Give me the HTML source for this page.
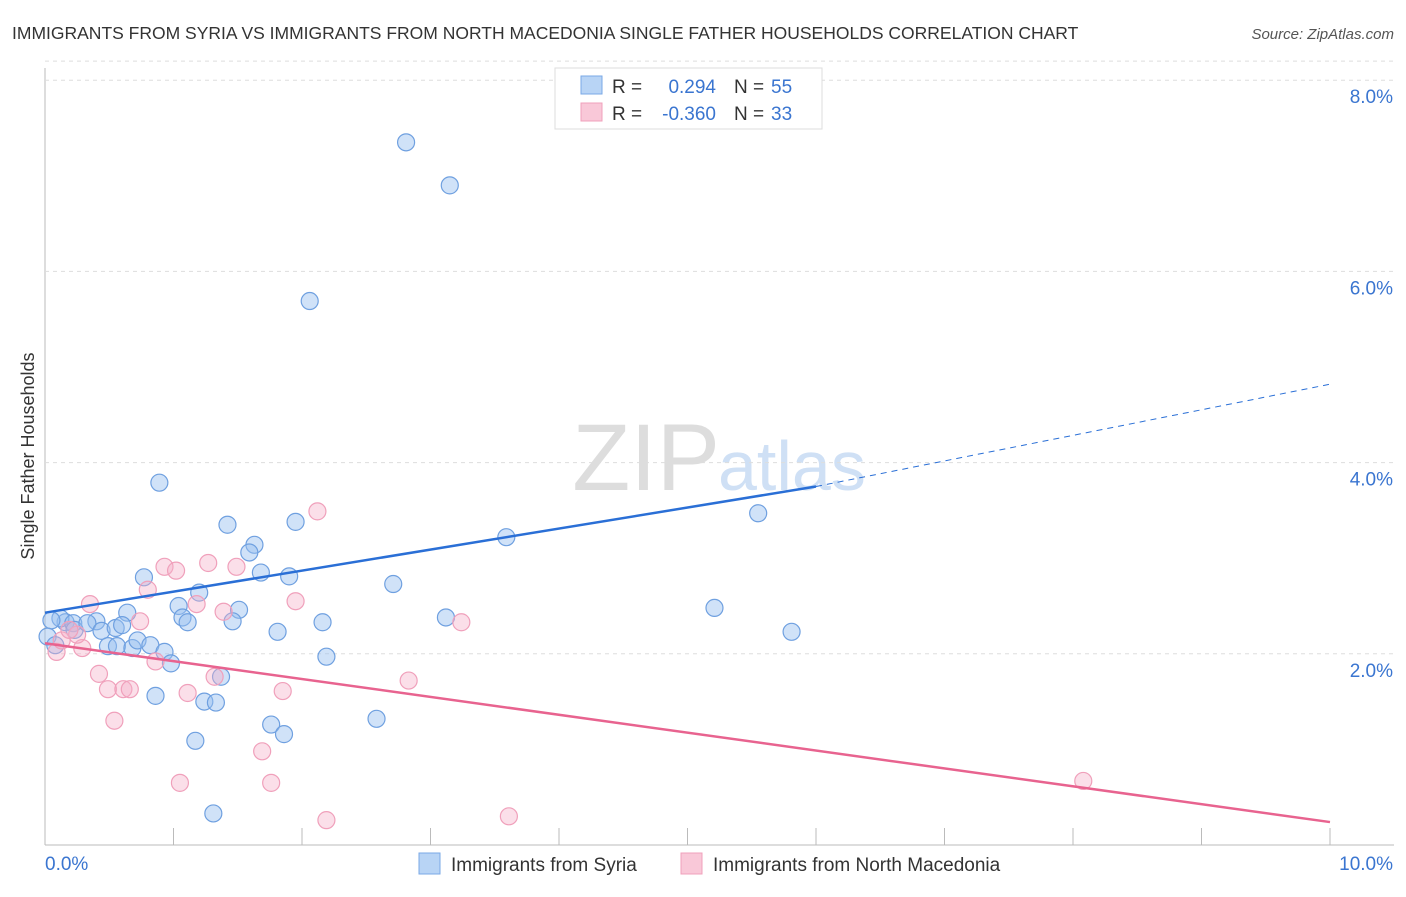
<!DOCTYPE html>
<html><head><meta charset="utf-8"><style>
body{margin:0;background:#fff;font-family:"Liberation Sans",sans-serif}
svg text{font-family:"Liberation Sans",sans-serif}
</style></head><body>
<svg id="chart" width="1406" height="892" xmlns="http://www.w3.org/2000/svg">
<text x="12" y="39" font-size="17.5" fill="#333">IMMIGRANTS FROM SYRIA VS IMMIGRANTS FROM NORTH MACEDONIA SINGLE FATHER HOUSEHOLDS CORRELATION CHART</text>
<text x="1394" y="39" font-size="15" fill="#555" font-style="italic" text-anchor="end">Source: ZipAtlas.com</text>
<text x="720" y="490" font-size="95" fill="#ddd" text-anchor="end" font-family="Liberation Serif">ZIP</text>
<text x="718" y="490" font-size="70" fill="#cfe0f5">atlas</text>
<text transform="translate(34,456) rotate(-90)" font-size="18" fill="#333" text-anchor="middle">Single Father Households</text>
<g id="grid"></g><g id="marks"></g>
<g>
<rect x="555" y="68" width="267" height="61" fill="#fff" stroke="#ddd"/>
<rect x="581" y="76" width="21" height="18" fill="#b8d4f5" stroke="#7aa8e6"/>
<rect x="581" y="103" width="21" height="18" fill="#f9c8d8" stroke="#f0a0bb"/>
<text x="612" y="93" font-size="19" fill="#333">R =</text><text x="716" y="93" font-size="19" fill="#3a75d0" text-anchor="end">0.294</text>
<text x="734" y="93" font-size="19" fill="#333">N =</text><text x="771" y="93" font-size="19" fill="#3a75d0">55</text>
<text x="612" y="120" font-size="19" fill="#333">R =</text><text x="716" y="120" font-size="19" fill="#3a75d0" text-anchor="end">-0.360</text>
<text x="734" y="120" font-size="19" fill="#333">N =</text><text x="771" y="120" font-size="19" fill="#3a75d0">33</text>
</g>
<g>
<rect x="419" y="853" width="21" height="21" fill="#b8d4f5" stroke="#7aa8e6"/>
<text x="451" y="871" font-size="19" fill="#333">Immigrants from Syria</text>
<rect x="681" y="853" width="21" height="21" fill="#f9c8d8" stroke="#f0a0bb"/>
<text x="713" y="871" font-size="19" fill="#333">Immigrants from North Macedonia</text>
</g>
</svg>
<script>
const yTicks=[2,4,6,8];
const xTickVals=[0,1,2,3,4,5,6,7,8,9,10];
const syriaX=[2.81,3.15,2.06,0.89,5.55,1.42,1.95,3.59,1.63,1.59,0.77,1.68,1.90,2.71,1.20,1.04,0.64,1.51,1.07,1.11,1.46,5.21,3.12,2.16,5.81,1.81,0.40,0.16,0.12,0.22,0.23,0.33,0.44,0.49,0.56,0.68,0.72,0.82,0.93,0.98,2.19,1.37,0.86,1.24,1.33,2.58,1.76,1.86,1.17,1.31,0.05,0.02,0.08,0.55,0.60];
const syriaY=[7.35,6.90,5.69,3.79,3.47,3.35,3.38,3.22,3.14,3.06,2.80,2.85,2.81,2.73,2.64,2.50,2.43,2.46,2.38,2.33,2.34,2.48,2.38,2.33,2.23,2.23,2.34,2.33,2.37,2.32,2.25,2.32,2.24,2.08,2.08,2.06,2.14,2.09,2.02,1.90,1.97,1.76,1.56,1.50,1.49,1.32,1.26,1.16,1.09,0.33,2.35,2.18,2.09,2.27,2.30];
const macX=[2.12,0.93,1.02,1.27,1.49,0.80,0.35,1.18,1.95,1.39,0.74,3.24,0.29,0.09,0.13,0.25,0.86,0.42,1.32,2.83,0.49,0.61,0.66,1.11,1.85,0.54,1.69,1.05,1.76,2.19,3.61,8.08,0.19];
const macY=[3.49,2.91,2.87,2.95,2.91,2.67,2.52,2.52,2.55,2.44,2.34,2.33,2.06,2.02,2.14,2.20,1.92,1.79,1.76,1.72,1.63,1.63,1.63,1.59,1.61,1.30,0.98,0.65,0.65,0.26,0.30,0.67,2.25];
const syriaTrend=[2.43,3.75,4.82]; // at x=0, 6, 10
const macTrend=[2.11,0.24]; // at x=0, 10
const NS="http://www.w3.org/2000/svg";
const xs=v=>45+v*128.5, ys=v=>845-v*95.6;
const grid=document.getElementById('grid'), marks=document.getElementById('marks');
function mk(tag,attrs,parent){const e=document.createElementNS(NS,tag);for(const k in attrs)e.setAttribute(k,attrs[k]);parent.appendChild(e);return e;}
let l=mk('line',{x1:45,y1:68,x2:45,y2:845,stroke:'#bbb'},grid);


l=mk('line',{x1:45,y1:845,x2:1394,y2:845,stroke:'#bbb'},grid);


l=mk('line',{x1:45,y1:ys(8.2),x2:1394,y2:ys(8.2),stroke:'#ddd','stroke-dasharray':'4,4'},grid);


yTicks.forEach(t=>{
 const g=mk('line',{x1:45,y1:ys(t),x2:1394,y2:ys(t),stroke:'#ddd','stroke-dasharray':'4,4'},grid);
 
 
 const tx=mk('text',{x:1393,y:ys(t)+23,'font-size':19,fill:'#3a75d0','text-anchor':'end'},grid);tx.textContent=t.toFixed(1)+'%';
 
 
});
xTickVals.forEach(t=>{
 if(t===0)return;
 const g=mk('line',{x1:xs(t),y1:828,x2:xs(t),y2:845,stroke:'#bbb'},grid);
 
 
});
let tx=mk('text',{x:45,y:870,'font-size':19,fill:'#3a75d0'},grid);tx.textContent='0.0%';


tx=mk('text',{x:1393,y:870,'font-size':19,fill:'#3a75d0','text-anchor':'end'},grid);tx.textContent='10.0%';


syriaX.forEach((x,i)=>{
 const c=mk('circle',{cx:xs(x),cy:ys(syriaY[i]),r:8.5,fill:'rgba(150,190,240,0.45)',stroke:'#6fa0e0','stroke-width':1.2},marks);
 
 
});
macX.forEach((x,i)=>{
 const c=mk('circle',{cx:xs(x),cy:ys(macY[i]),r:8.5,fill:'rgba(246,175,200,0.4)',stroke:'#f0a0bb','stroke-width':1.2},marks);
 
 
});
l=mk('line',{x1:xs(0),y1:ys(syriaTrend[0]),x2:xs(6),y2:ys(syriaTrend[1]),stroke:'#2a6fd6','stroke-width':2.5},marks);


l=mk('line',{x1:xs(6),y1:ys(syriaTrend[1]),x2:xs(10),y2:ys(syriaTrend[2]),stroke:'#2a6fd6','stroke-width':1,'stroke-dasharray':'6,5'},marks);


l=mk('line',{x1:xs(0),y1:ys(macTrend[0]),x2:xs(10),y2:ys(macTrend[1]),stroke:'#e8638f','stroke-width':2.5},marks);


</script>
</body></html>
